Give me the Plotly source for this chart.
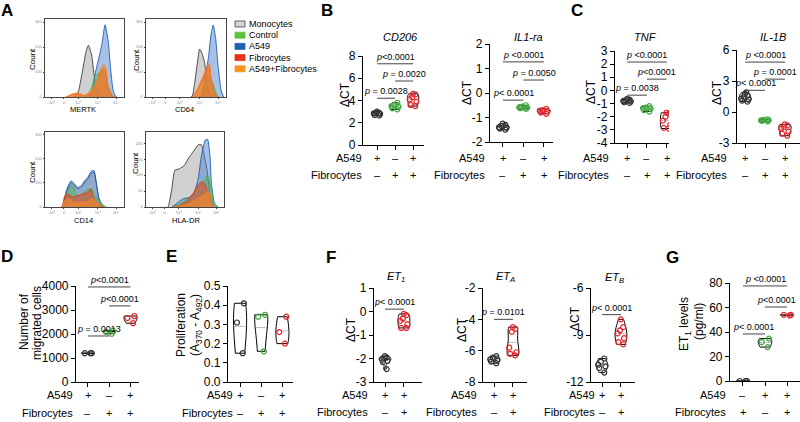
import plotly.graph_objects as go

W, H = 800, 422
FONT = "Liberation Sans, Arial, sans-serif"

# ---------------- A: flow cytometry histograms (x = display position in %, y = count)
hist_pops = ["Monocytes", "Control", "A549", "Fibrocytes", "A549+Fibrocytes"]
hist_ticks = ["-10³", "0", "10³", "10⁴", "10⁵"]

mertk_mono = [(36, 0), (40, 8), (43, 31), (48, 114), (52, 182), (55, 207), (59, 168), (62, 93), (65, 31), (70, 4), (73, 0)]
mertk_ctrl = [(52, 0), (54, 5), (59, 38), (63, 79), (67, 93), (72, 107), (76, 79), (80, 38), (85, 4), (88, 0)]
mertk_a549 = [(56, 0), (59, 10), (63, 86), (67, 141), (72, 210), (76, 289), (80, 223), (83, 114), (86, 31), (89, 4), (91, 0)]
mertk_fib = [(27, 0), (33, 8), (37, 12), (43, 12), (50, 5), (59, 18), (65, 52), (70, 93), (74, 114), (77, 93), (80, 31), (85, 3), (88, 0)]
mertk_both = [(26, 0), (30, 5), (37, 15), (43, 15), (50, 7), (59, 25), (65, 59), (70, 107), (74, 130), (77, 114), (80, 45), (85, 7), (88, 0)]

cd64_mono = [(56, 0), (58, 5), (61, 59), (65, 155), (67, 192), (70, 175), (73, 141), (76, 66), (79, 10), (82, 0)]
cd64_ctrl = [(66, 0), (69, 5), (74, 52), (79, 82), (83, 59), (89, 5), (91, 0)]
cd64_a549 = [(68, 0), (70, 5), (74, 86), (78, 155), (81, 244), (84, 288), (87, 237), (90, 127), (94, 25), (97, 0)]
cd64_fib = [(57, 0), (59, 3), (65, 35), (70, 68), (76, 112), (79, 127), (81, 78), (85, 15), (89, 0)]
cd64_both = [(57, 0), (59, 3), (65, 38), (70, 73), (76, 120), (79, 134), (81, 82), (85, 18), (89, 0)]

cd14_mono = [(22, 0), (27, 60), (33, 100), (37, 90), (41, 75), (46, 82), (50, 100), (54, 115), (59, 140), (62, 143), (65, 95), (68, 35), (72, 5), (74, 0)]
cd14_ctrl = [(22, 0), (24, 7), (28, 61), (33, 88), (37, 74), (41, 47), (48, 54), (54, 74), (59, 74), (63, 47), (70, 20), (76, 3), (78, 0)]
cd14_a549 = [(22, 0), (24, 7), (27, 68), (33, 108), (37, 97), (41, 81), (46, 88), (50, 108), (54, 122), (59, 149), (62, 151), (65, 101), (68, 41), (72, 7), (75, 0)]
cd14_fib = [(20, 0), (22, 4), (25, 47), (28, 54), (35, 41), (41, 47), (48, 54), (54, 61), (58, 74), (61, 41), (67, 14), (72, 3), (74, 0)]
cd14_both = [(20, 0), (22, 4), (25, 27), (30, 34), (37, 20), (46, 20), (54, 24), (61, 34), (65, 20), (72, 3), (74, 0)]

hladr_mono = [(28, 0), (29, 5), (33, 55), (37, 115), (43, 120), (49, 130), (55, 155), (61, 175), (67, 195), (71, 195), (73, 180), (78, 120), (82, 40), (86, 5), (88, 0)]
hladr_ctrl = [(35, 0), (47, 15), (59, 35), (67, 65), (73, 75), (79, 100), (83, 65), (87, 15), (92, 0)]
hladr_a549 = [(33, 0), (39, 10), (47, 25), (55, 30), (61, 40), (67, 90), (71, 160), (76, 210), (79, 212), (82, 160), (84, 70), (88, 10), (92, 0)]
hladr_fib = [(39, 0), (51, 15), (61, 45), (67, 70), (72, 80), (76, 70), (80, 40), (84, 8), (88, 0)]
hladr_both = [(35, 0), (55, 10), (65, 25), (73, 35), (79, 50), (82, 40), (84, 10), (88, 0)]

# ---------------- B-G: individual values per group (group order left to right)
cd206_g1 = [3.0, 2.9, 2.85, 2.8, 2.7, 2.65, 2.9]
cd206_g2 = [3.8, 3.6, 3.5, 3.45, 3.3, 3.2]
cd206_g3 = [4.6, 4.55, 4.3, 4.1, 3.9, 3.6, 3.5]

il1ra_g1 = [-1.25, -1.3, -1.35, -1.4, -1.45, -1.5, -1.42]
il1ra_g2 = [-0.5, -0.55, -0.6, -0.62, -0.65, -0.58]
il1ra_g3 = [-0.65, -0.7, -0.75, -0.8, -0.85, -0.72]

tnf_g1 = [-0.65, -0.75, -0.8, -0.85, -0.9, -0.7, -0.95]
tnf_g2 = [-1.2, -1.3, -1.35, -1.4, -1.5, -1.6]
tnf_g3 = [-1.7, -1.75, -2.0, -2.3, -2.6, -2.85, -2.9]

il1b_g1 = [1.0, 1.1, 1.2, 1.3, 1.45, 1.6, 1.75, 1.9]
il1b_g2 = [-0.7, -0.75, -0.8, -0.8, -0.85, -0.9]
il1b_g3 = [-1.2, -1.3, -1.45, -1.6, -1.9, -2.1, -2.3]

migr_g1 = [1200, 1200, 1200]
migr_g2 = [2010, 2090, 2130]
migr_g3 = [2750, 2660, 2450]

prolif_g1 = [0.41, 0.31, 0.15]
prolif_g2 = [0.35, 0.34, 0.16]
prolif_g3 = [0.34, 0.26, 0.20]

et1_g1 = [-1.9, -1.95, -2.0, -2.05, -2.1, -2.15, -2.45]
et1_g2 = [-0.1, -0.15, -0.3, -0.4, -0.55, -0.7, -0.7]
eta_g1 = [-6.35, -6.45, -6.55, -6.6, -6.7, -6.8]
eta_g2 = [-4.5, -4.6, -4.8, -5.8, -6.1, -6.2, -6.3]
etb_g1 = [-10.5, -10.7, -10.9, -11.0, -11.1, -11.4]
etb_g2 = [-8.0, -8.5, -8.7, -8.9, -9.2, -9.45, -9.6]

et1lvl_g1 = [0, 0, 0]
et1lvl_g2 = [34.6, 31.8, 27.7]
et1lvl_g3 = [54, 53.5, 54]

# significance: (group a, group b, label)
cd206_sig = [(0, 2, "<0.0001"), (1, 2, " = 0.0020"), (0, 1, " = 0.0028")]
il1ra_sig = [(0, 2, " <0.0001"), (1, 2, " = 0.0050"), (0, 1, "< 0.0001")]
tnf_sig = [(0, 2, " <0.0001"), (1, 2, "<0.0001"), (0, 1, " = 0.0038")]
il1b_sig = [(0, 2, " <0.0001"), (1, 2, " = 0.0001"), (0, 1, "< 0.0001")]
migr_sig = [(0, 2, "<0.0001"), (1, 2, "<0.0001"), (0, 1, " = 0.0013")]
et1_sig = [(0, 1, "< 0.0001")]
eta_sig = [(0, 1, " = 0.0101")]
etb_sig = [(0, 1, "< 0.0001")]
et1lvl_sig = [(0, 2, " <0.0001"), (1, 2, "<0.0001"), (0, 1, "< 0.0001")]

rows3 = [("A549", ["+", "–", "+"]), ("Fibrocytes", ["–", "+", "+"])]
rows2 = [("A549", ["+", "+"]), ("Fibrocytes", ["–", "+"])]
rows_g = [("A549", ["–", "+", "+"]), ("Fibrocytes", ["+", "–", "+"])]

# ---------------- styles
HIST_STYLE = {
    "Monocytes": ("#3a3a3a", "rgba(200,200,200,0.85)"),
    "Control": ("#3fb23f", "rgba(80,175,80,0.45)"),
    "A549": ("#1c5bb8", "rgba(80,130,205,0.5)"),
    "Fibrocytes": ("#e8341c", "rgba(232,70,40,0.55)"),
    "A549+Fibrocytes": ("#f5821f", "rgba(246,140,40,0.6)"),
}
LEGEND_COL = ["#d6d6d6", "#5cc33a", "#1f5fb4", "#e8331c", "#f7931e"]
DRAW_ORDER = ["Monocytes", "A549", "Control", "Fibrocytes", "A549+Fibrocytes"]
BLACK, GREEN, RED = "#333333", "#3aab3a", "#e8232a"
COLS3 = [BLACK, GREEN, RED]
COLS2 = [BLACK, RED]

fig = go.Figure()
axes = {}
ann = []
shp = []
count = [0]


def X(p):
    return p / W


def Y(p):
    return 1 - p / H


def new_axes(box, xr, yr):
    count[0] += 1
    i = count[0]
    sfx = "" if i == 1 else str(i)
    x0, x1, top, bot = box
    base = dict(showgrid=False, zeroline=False, fixedrange=True, automargin=False)
    axes["xaxis" + sfx] = dict(base, domain=[X(x0), X(x1)], range=xr, anchor="y" + sfx)
    axes["yaxis" + sfx] = dict(base, domain=[Y(bot), Y(top)], range=yr, anchor="x" + sfx)
    return "x" + sfx, "y" + sfx, "xaxis" + sfx, "yaxis" + sfx


def text(x, y, s, size, xref="paper", yref="paper", **kw):
    if xref == "paper":
        x = X(x)
    if yref == "paper":
        y = Y(y)
    kw.setdefault("xanchor", "center")
    kw.setdefault("yanchor", "middle")
    ann.append(dict(x=x, y=y, xref=xref, yref=yref, text=s, showarrow=False,
                    font=dict(family=FONT, size=size, color=kw.pop("color", "black")), **kw))


def hist_panel(box, curves, ymax, yticks, xlabel, label_pos, count_pos):
    xs, ys, xa, ya = new_axes(box, [0, 100], [0, ymax])
    thin = dict(showline=True, mirror=True, linecolor="#444", linewidth=0.8, ticks="outside",
                ticklen=1.5, tickwidth=0.6, tickcolor="#444", tickfont=dict(size=4, color="#888", family=FONT))
    axes[xa].update(thin, tickvals=[8, 24, 42, 67, 90], ticktext=hist_ticks)
    axes[ya].update(thin, tickvals=yticks, ticktext=[str(t) for t in yticks])
    for name in DRAW_ORDER:
        pts = curves[hist_pops.index(name)]
        line_c, fill_c = HIST_STYLE[name]
        fig.add_trace(go.Scatter(x=[p[0] for p in pts], y=[p[1] for p in pts], xaxis=xs, yaxis=ys,
                                 mode="lines", line=dict(color=line_c, width=0.9, shape="spline", smoothing=0.5),
                                 fill="tozeroy", fillcolor=fill_c, showlegend=False, hoverinfo="skip"))
    text(label_pos[0], label_pos[1], xlabel, 7.5)
    text(count_pos[0], count_pos[1], "Count", 8, textangle=-90)


def dot_panel(box, xr, yr, yticks, groups, cols, sig, sig_y, rows, row_right, row_y,
              title=None, title_pos=None, ytitle=(), tickfmt=str):
    xs, ys, xa, ya = new_axes(box, xr, yr)
    ax = dict(showline=True, linecolor="black", linewidth=1.2, ticks="outside", ticklen=4,
              tickwidth=1.2, tickcolor="black", tickfont=dict(size=12, family=FONT, color="black"))
    axes[xa].update(ax, tickvals=list(range(len(groups))), showticklabels=False)
    axes[ya].update(ax, tickvals=yticks, ticktext=[tickfmt(t) for t in yticks])
    for i, (vals, c) in enumerate(zip(groups, cols)):
        fig.add_trace(go.Violin(x=[i] * len(vals), y=vals, xaxis=xs, yaxis=ys, points="all", pointpos=0,
                                jitter=0.75, width=0.62, spanmode="hard", scalemode="width",
                                line=dict(color="black", width=1), fillcolor="rgba(255,255,255,0)",
                                meanline=dict(visible=True, color="#888", width=0.8),
                                marker=dict(symbol="circle-open", size=5, color=c, line=dict(color=c, width=1.2)),
                                showlegend=False, hoverinfo="skip"))
    for (a, b, lab), yv in zip(sig, sig_y):
        shp.append(dict(type="line", xref=xs, yref=ys, x0=a, x1=b, y0=yv, y1=yv,
                        line=dict(color="#444", width=1)))
        text((a + b) / 2, yv, "<i>p</i>" + lab, 9, xref=xs, yref=ys, yanchor="bottom")
    for (label, signs), ry in zip(rows, row_y):
        text(row_right, ry, label, 11, xanchor="right")
        for i, s in enumerate(signs):
            text(i, ry, s, 11, xref=xs)
    if title:
        text(title_pos[0], title_pos[1], title, 11)
    for line, (tx, ty) in ytitle:
        text(tx, ty, line, 12, textangle=-90)


# ---------------- A
hist_panel((45, 124, 19, 97), [mertk_mono, mertk_ctrl, mertk_a549, mertk_fib, mertk_both],
           312, [0, 100, 200, 300], "MERTK", (83, 109), (32, 59))
hist_panel((146, 226, 19, 97), [cd64_mono, cd64_ctrl, cd64_a549, cd64_fib, cd64_both],
           312, [0, 100, 200, 300], "CD64", (184, 109), (136, 60))
hist_panel((45, 124, 132, 207), [cd14_mono, cd14_ctrl, cd14_a549, cd14_fib, cd14_both],
           310, [0, 100, 200, 300], "CD14", (83, 220), (32, 172))
hist_panel((146, 224, 132, 207), [hladr_mono, hladr_ctrl, hladr_a549, hladr_fib, hladr_both],
           235, [0, 50, 100, 150, 200], "HLA-DR", (186, 220), (136, 163))

for k, (name, col) in enumerate(zip(hist_pops, LEGEND_COL)):
    yc = 24 + k * 11.2
    shp.append(dict(type="rect", xref="paper", yref="paper", x0=X(235), x1=X(245), y0=Y(yc + 3), y1=Y(yc - 3),
                    fillcolor=col, line=dict(color="#444" if k == 0 else col, width=0.8)))
    text(247, yc, name, 9, xanchor="left")

# ---------------- B
dot_panel((363, 424, 56, 145), [-0.78, 2.6], [0, 8], [0, 2, 4, 6, 8], [cd206_g1, cd206_g2, cd206_g3], COLS3,
          cd206_sig, [7.3, 5.75, 4.2], rows3, 364, [158, 175],
          "<i>CD206</i>", (400, 37), [("ΔCT", (345, 95))])
dot_panel((490, 553, 44, 142), [-0.63, 2.45], [-2, 2], [-2, -1, 0, 1, 2], [il1ra_g1, il1ra_g2, il1ra_g3], COLS3,
          il1ra_sig, [1.27, 0.53, -0.29], rows3, 487, [158, 175],
          "<i>IL1-ra</i>", (528, 37), [("ΔCT", (467, 93))])
# ---------------- C
dot_panel((615, 669, 51, 143), [-0.62, 2.12], [-4, 3], [-4, -3, -2, -1, 0, 1, 2, 3], [tnf_g1, tnf_g2, tnf_g3],
          COLS3, tnf_sig, [2.16, 0.86, -0.36], rows3, 611, [158, 175],
          "<i>TNF</i>", (645, 37), [("ΔCT", (591, 92))])
dot_panel((737, 800, 50, 143), [-0.4, 2.75], [-3, 6], [-3, 0, 3, 6], [il1b_g1, il1b_g2, il1b_g3], COLS3,
          il1b_sig, [4.83, 3.18, 2.1], rows3, 729, [158, 175],
          "<i>IL-1B</i>", (773, 37), [("ΔCT", (717, 93))])
# ---------------- D
dot_panel((76, 139, 286, 382), [-0.56, 2.4], [0, 4000], [0, 1000, 2000, 3000, 4000], [migr_g1, migr_g2, migr_g3],
          COLS3, migr_sig, [3960, 3170, 1917], rows3, 75, [395, 413],
          ytitle=[("Number of", (24, 322)), ("migrated cells", (37, 323))])
# ---------------- E
dot_panel((228, 293, 286, 382), [-0.57, 2.5], [0, 0.5], [0, 0.1, 0.2, 0.3, 0.4, 0.5],
          [prolif_g1, prolif_g2, prolif_g3], COLS3, [], [], rows3, 235, [395, 413],
          ytitle=[("Proliferation", (181, 325)), ("(A<sub>370</sub> - A<sub>492</sub>)", (196, 325))],
          tickfmt=lambda v: f"{v:.1f}")
# ---------------- F
dot_panel((374, 422, 288, 382), [-0.58, 1.95], [-3, 1], [-3, -2, -1, 0, 1], [et1_g1, et1_g2], COLS2,
          et1_sig, [0.1], rows2, 370, [395, 412],
          "<i>ET<sub>1</sub></i>", (396, 277), [("ΔCT", (351, 330))])
dot_panel((483, 527, 288, 382), [-0.58, 1.74], [-8, -2], [-8, -6, -4, -2], [eta_g1, eta_g2], COLS2,
          eta_sig, [-4.0], rows2, 479, [395, 412],
          "<i>ET<sub>A</sub></i>", (506, 277), [("ΔCT", (462, 330))])
dot_panel((591, 635, 288, 382), [-0.58, 1.74], [-12, -6], [-12, -9, -6], [etb_g1, etb_g2], COLS2,
          etb_sig, [-7.7], rows2, 597, [395, 412],
          "<i>ET<sub>B</sub></i>", (614, 278), [("ΔCT", (575, 319))])
# ---------------- G
dot_panel((730, 800, 283, 381), [-0.59, 2.59], [0, 80], [0, 20, 40, 60, 80], [et1lvl_g1, et1lvl_g2, et1lvl_g3],
          COLS3, et1lvl_sig, [77.6, 60.4, 38.4], rows_g, 728, [395, 412],
          ytitle=[("ET<sub>1</sub> levels", (685, 324)), ("(pg/ml)", (699, 322))])

for letter, (lx, ly) in zip("ABCDEFG", [(7, 10), (327, 10), (577, 10), (7, 256), (171, 256), (331, 257), (672, 257)]):
    text(lx, ly, "<b>" + letter + "</b>", 17)

fig.update_layout(template="none", width=W, height=H, margin=dict(l=0, r=0, t=0, b=0, autoexpand=False),
                  paper_bgcolor="white", plot_bgcolor="rgba(0,0,0,0)", showlegend=False, violinmode="overlay",
                  font=dict(family=FONT, color="black"), annotations=ann, shapes=shp, **axes)

# drop the browser's default 8px page margin so the figure sits at the window origin
fig.write_html("out.html", config={"displayModeBar": False},
               post_script="document.body.style.margin = '0';")
